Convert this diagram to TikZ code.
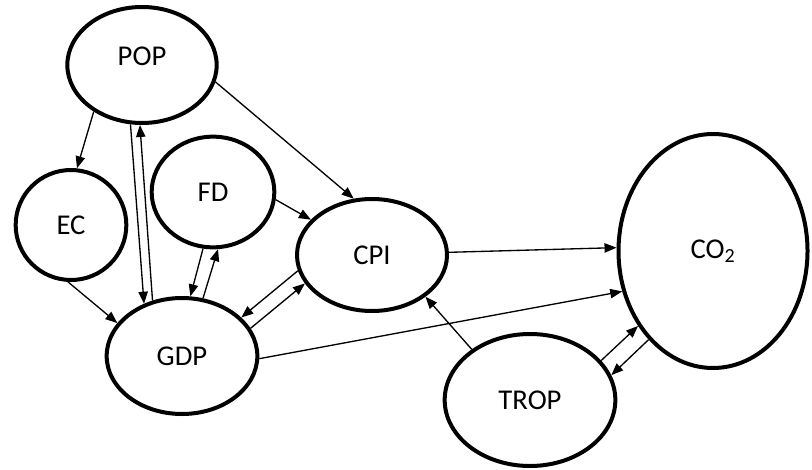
\documentclass[tikz,border=0pt]{standalone}
\usepackage{fontspec}
\setmainfont{Carlito}
\usetikzlibrary{shapes.geometric,arrows.meta}
\begin{document}
\begin{tikzpicture}[x=0.75pt,y=-0.75pt,
  varfont/.style={font=\fontsize{21.5}{25}\selectfont},
  var/.style={draw,ellipse,line width=3pt,inner sep=0pt,outer sep=auto,varfont},
  arr/.style={line width=1pt,-{Triangle[length=9pt,width=7pt]}}]
\useasboundingbox (0,0) rectangle (812,470);
\node[var,minimum width=112pt,minimum height=87pt,
  label={[yshift=6.5pt,varfont]center:POP}] (pop) at (142,65) {};
\node[var,minimum width=83pt,minimum height=82.5pt] (ec) at (71,225) {EC};
\node[var,minimum width=92pt,minimum height=83pt] (fd) at (213,192) {FD};
\node[var,minimum width=113pt,minimum height=87pt] (gdp) at (182,356) {GDP};
\node[var,minimum width=112.5pt,minimum height=84pt] (cpi) at (372,255) {CPI};
\node[var,minimum width=141.75pt,minimum height=175.5pt] (co2) at (713,251) {CO\textsubscript{2}};
\node[var,minimum width=128pt,minimum height=99pt] (trop) at (530,400) {TROP};
\draw[arr] (pop.224) -- (ec.84);
\draw[arr] (pop.347) -- (cpi.108);
\draw[arr] (pop.259) -- (gdp.126);
\draw[arr] (gdp.118) -- (pop.268);
\draw[arr] (ec.267) -- (gdp.153);
\draw[arr] (fd.353) -- (cpi.150);
\draw[arr] (fd.260) -- (gdp.82);
\draw[arr] (gdp.70) -- (fd.275);
\draw[arr] (cpi.192) -- (gdp.33);
\draw[arr] (gdp.22) -- (cpi.203);
\draw[arr] (gdp.358) -- (co2.204);
\draw[arr] (cpi.2) -- (co2.178);
\draw[arr] (trop.139) -- (cpi.322);
\draw[arr] (trop.29) -- (co2.225);
\draw[arr] (co2.234) -- (trop.17);
\end{tikzpicture}
\end{document}
